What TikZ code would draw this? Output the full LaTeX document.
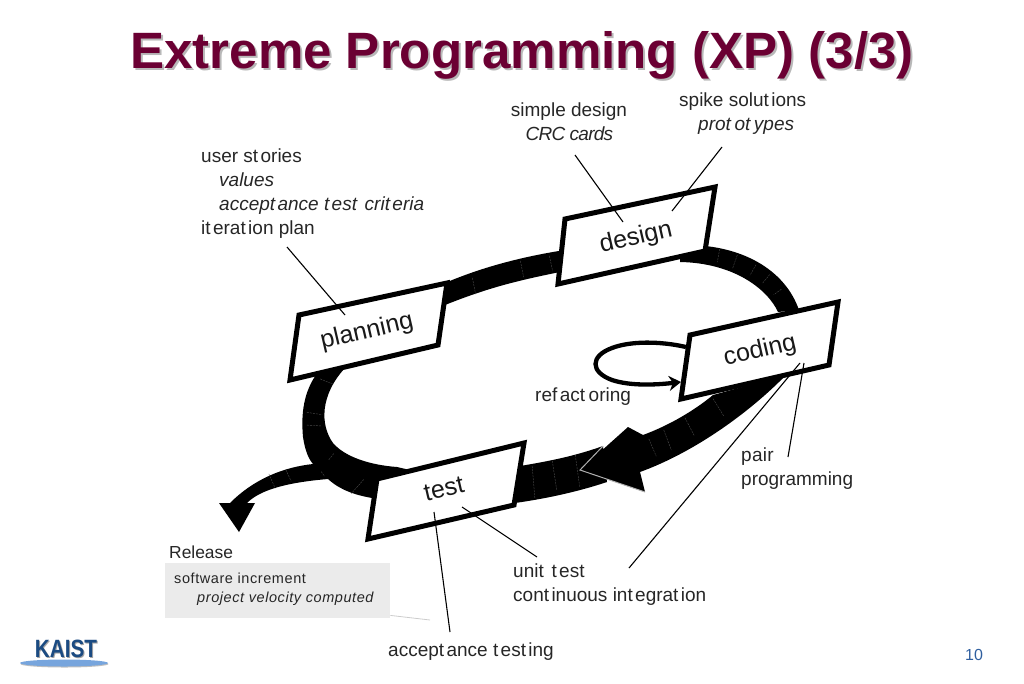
\documentclass[tikz,border=0pt]{standalone}
\usepackage{fontspec}
\usepackage{graphicx}
\setmainfont{Liberation Sans}
\usetikzlibrary{arrows.meta}
\definecolor{titlec}{HTML}{6B0033}
\definecolor{kblue}{HTML}{1B4B82}
\definecolor{numblue}{HTML}{2F5F9F}
\newcommand\kk{\kern2.4pt}
\newcommand\kq{\kern3.6pt}
\tikzset{
  band/.style={fill=black,draw=none},
  tick/.style={draw=gray!60!black,line width=0.4pt,dash pattern=on 2pt off 1pt,shorten >=2pt,shorten <=2pt},
  stagebox/.style={draw=black,fill=white,line width=5pt,line join=miter},
  stagelabel/.style={font=\fontsize{25}{25}\selectfont,rotate=13,inner sep=0pt,text=black!90},
  note/.style={font=\fontsize{19}{24}\selectfont,align=left,anchor=north west,inner sep=0pt,text=black!85},
  leader/.style={draw=black,line width=1.1pt},
  ttl/.style={font=\fontsize{51.1}{51}\selectfont\bfseries,inner sep=0pt,anchor=base west},
}
\begin{document}
\begin{tikzpicture}[x=1pt,y=-1pt]
\useasboundingbox (0,0) rectangle (1024,683);
% title
\node[ttl,text=black!28] at (132,70) {Extreme Programming (XP) (3/3)};
\node[ttl,text=titlec] (title) at (130,68) {Extreme Programming (XP) (3/3)};
% bands
\path[band] (445,283) .. controls (480,268) and (520,257) .. (565,250) -- (565,271) .. controls (520,280) and (490,287) .. (445,305) -- cycle;
\path[band] (680,246) -- (705,246) .. controls (745,250) and (785,270) .. (799,310) -- (778,312) .. controls (768,290) and (735,263) .. (680,262) -- cycle;
\path[band] (713,395) .. controls (695,410) and (670,425) .. (643,435) -- (628,427) -- (580,470) -- (645,492) -- (640,472) .. controls (695,452) and (750,412) .. (786,375) -- cycle;
\path[band] (603,446) .. controls (575,456) and (550,461) .. (520,466) -- (515,503) .. controls (550,498) and (580,491) .. (607,482) -- cycle;
\path[band] (318,372) .. controls (303,392) and (301,415) .. (303,437) .. controls (305,450) and (308,458) .. (313,464)
  .. controls (285,467) and (255,478) .. (230,503) -- (219,503) -- (239,532) -- (255,503) -- (247,503)
  .. controls (258,492) and (280,483) .. (328,479) .. controls (340,490) and (355,495) .. (372,498) -- (410,470) -- (397,467)
  .. controls (370,465) and (345,457) .. (333,443) .. controls (320,425) and (320,395) .. (345,368) -- cycle;
% arrowhead outline of the large arrow
\draw[gray!60,line width=1pt] (603,446) -- (580,470) -- (645,492);
% band ticks
\foreach \a/\b/\c/\d in {472/276/476/296, 520/259/524/279, 549/254/553/273, 720/247/717/264, 738/253/732/270, 757/263/749/277, 771/273/761/285, 783/288/772/296,
  712/397/725/418, 684/416/695/437, 663/428/672/452, 648/437/657/458, 552/459/557/492, 575/453/580/489, 532/464/535/500,
  335/385/318/378, 305/412/324/415, 305/425/323/426, 335/452/327/462, 365/478/350/495, 320/470/326/478, 285/468/292/483, 268/472/276/490}
  {\draw[tick] (\a,\b) -- (\c,\d);}
% refactoring loop
\coordinate (loopstart) at (686,347);
\coordinate (loopend) at (681,382);
\draw[line width=4.3pt,-{Stealth[length=12pt,width=15pt]}] (loopstart) .. controls (660,341) and (630,341) .. (612,348) .. controls (590,356) and (590,372) .. (612,380) .. controls (630,386) and (655,385) .. (loopend);
% boxes
\draw[stagebox] (299,315) -- (447,283) -- (438,345) -- (290,380) -- cycle;
\node[stagelabel] (planning) at (367,332) {planning};
\draw[stagebox] (565,219) -- (715,187) -- (705,251) -- (558,284) -- cycle;
\node[stagelabel] (design) at (636,238) {design};
\draw[stagebox] (690,335) -- (838,302) -- (829,365) -- (681,399) -- cycle;
\node[stagelabel] (coding) at (760,351) {coding};
\draw[stagebox] (377,479) -- (524,443) -- (514,505) -- (368,539) -- cycle;
\node[stagelabel] (test) at (444,489) {test};
% notes
\node[note] (userstories) at (201,148.5) {user st\kk ories\\\hspace*{18pt}\textit{values}\\\hspace*{18pt}\textit{accept\kk ance t\kk est\kk\ crit\kk eria}\\it\kk erat\kk ion plan};
\node[note,align=center,anchor=north] (simple) at (569,102.5) {simple design\\\addfontfeatures{LetterSpace=-4}\textit{CRC cards}};
\node[note] (spike) at (679,92.5) {spike solut\kk ions\\\hspace*{19pt}\textit{prot\kq ot\kq ypes}};
\node[note] (refact) at (535,387.5) {ref\kk act\kq oring};
\node[note] (pair) at (741,447.5) {\addfontfeatures{LetterSpace=1.5}pair\\programming};
\node[note] (unit) at (513,563.5) {unit\kk\ t\kk est\\cont\kk inuous int\kk egrat\kk ion};
\node[note] (acctest) at (388,642.5) {accept\kk ance t\kk est\kk ing};
\node[note,font=\fontsize{17.4}{24}\selectfont] (release) at (169,545.5) {Release};
% release box
\node[fill=black!8,anchor=north west,minimum width=225pt,minimum height=55pt,inner sep=0pt] (relbox) at (165,563) {};
\node[font=\fontsize{14.5}{19}\selectfont\addfontfeatures{LetterSpace=4},align=left,anchor=north west,inner sep=0pt,text=black!85] (relnote) at (174,573) {software increment\\\hspace*{23pt}\textit{project velocity computed}};
% leaders
\coordinate (a1) at (287,247); \coordinate (a2) at (345,315);
\draw[leader] (a1) -- (a2);
\coordinate (b1) at (575,155); \coordinate (b2) at (623,222);
\draw[leader] (b1) -- (b2);
\coordinate (c1) at (722,147); \coordinate (c2) at (672,211);
\draw[leader] (c1) -- (c2);
\coordinate (d1) at (804,363); \coordinate (d2) at (788,457);
\draw[leader] (d1) -- (d2);
\coordinate (e1) at (800,363); \coordinate (e2) at (629,568);
\draw[leader] (e1) -- (e2);
\coordinate (f1) at (462,507); \coordinate (f2) at (537,557);
\draw[leader] (f1) -- (f2);
\coordinate (g1) at (434,512); \coordinate (g2) at (450,632);
\draw[leader] (g1) -- (g2);
\coordinate (h2) at (430,620);
\draw[draw=black!20,line width=0.8pt] ([yshift=3pt]relbox.south east) -- (h2);
% logo
\fill[black!25] (64.5,664) ellipse [x radius=44,y radius=3.5];
\fill[cyan!55!blue!55!white] (64,663) ellipse [x radius=44,y radius=3.5];
\node[font=\fontsize{25}{25}\selectfont\bfseries,text=black!35,inner sep=0pt] at (67,650) {\scalebox{.83}[1]{KAIST}};
\node[font=\fontsize{25}{25}\selectfont\bfseries,text=kblue,inner sep=0pt] (kaist) at (66,649) {\scalebox{.83}[1]{KAIST}};
% page number
\node[font=\fontsize{16}{16}\selectfont,text=numblue,inner sep=0pt] (page) at (974,655) {10};
\end{tikzpicture}
\end{document}
